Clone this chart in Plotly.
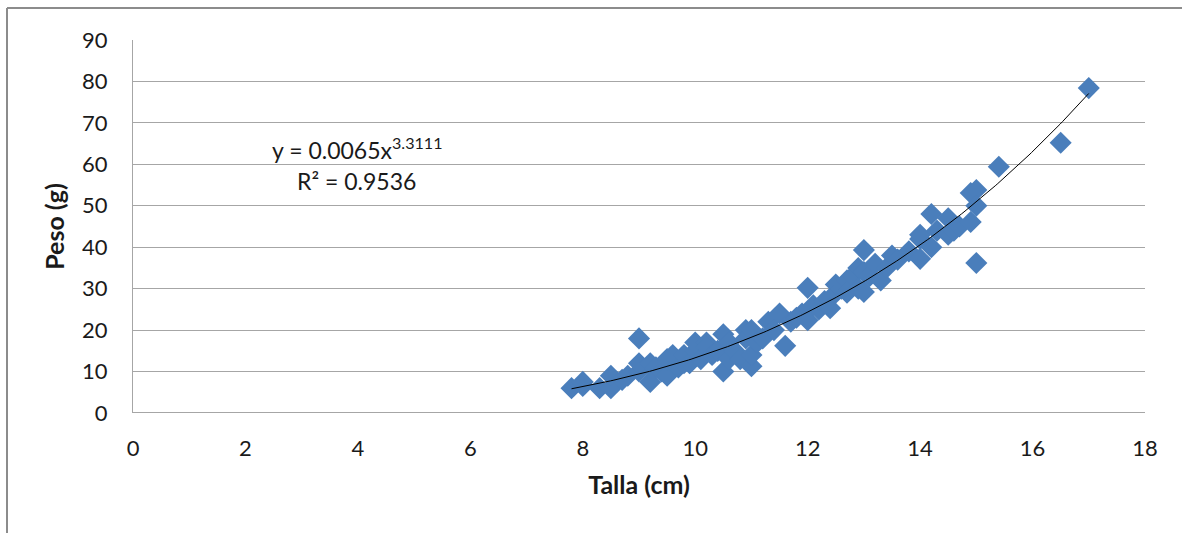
import numpy as np
import plotly.graph_objects as go

# Talla (cm) y Peso (g) de cada ejemplar
talla = [7.8, 8.0, 8.0, 8.3, 8.5, 8.5, 8.7, 8.8, 9.0, 9.0, 9.0, 9.2, 9.2, 9.3,
         9.4, 9.5, 9.5, 9.6, 9.7, 9.8, 9.8, 9.9, 10.0, 10.0, 10.1, 10.2, 10.2,
         10.3, 10.4, 10.5, 10.5, 10.6, 10.6, 10.7, 10.8, 10.9, 10.9, 11.0,
         11.0, 11.0, 11.1, 11.2, 11.3, 11.4, 11.5, 11.6, 11.7, 11.8, 11.9,
         12.0, 12.0, 12.1, 12.2, 12.3, 12.4, 12.5, 12.5, 12.6, 12.7, 12.7,
         12.8, 12.9, 12.9, 13.0, 13.0, 13.0, 13.1, 13.2, 13.3, 13.4, 13.5,
         13.6, 13.8, 14.0, 14.0, 14.0, 14.2, 14.2, 14.3, 14.5, 14.5, 14.6,
         14.7, 14.9, 14.9, 15.0, 15.0, 15.0, 15.4, 16.5, 17.0]
peso = [6.0, 6.5, 7.5, 6.0, 6.0, 9.0, 8.0, 9.0, 18.0, 10.0, 12.0, 7.5, 12.0, 11.0,
        10.0, 9.0, 13.0, 14.0, 11.0, 12.0, 14.0, 12.0, 15.0, 17.0, 13.0, 17.0, 16.0,
        14.0, 15.0, 10.0, 19.0, 17.0, 13.0, 15.0, 13.0, 20.0, 18.0, 11.3,
        14.0, 20.0, 17.0, 18.0, 22.0, 20.0, 24.0, 16.2, 22.0, 23.0, 24.0,
        30.2, 22.4, 26.0, 25.0, 27.0, 25.3, 29.0, 31.0, 30.0, 32.0, 29.0,
        33.0, 35.0, 30.0, 29.2, 39.3, 34.0, 33.0, 36.0, 32.0, 35.0, 38.0,
        37.0, 39.0, 37.2, 42.0, 43.0, 48.0, 40.0, 44.0, 47.0, 43.0, 44.0,
        45.0, 53.1, 46.1, 53.8, 50.0, 36.2, 59.4, 65.2, 78.4]

# Ajuste potencial: y = a * x^b
coef_a = 0.0065
coef_b = 3.3111
r2 = 0.9536

x_tick_vals = [0, 2, 4, 6, 8, 10, 12, 14, 16, 18]
y_tick_vals = [0, 10, 20, 30, 40, 50, 60, 70, 80, 90]

FONT = "Lato, 'Open Sans', sans-serif"
GRID = "#a6a6a6"
TEXT = "#1a1a1a"

xs = np.linspace(min(talla), max(talla), 200)
ys = coef_a * xs ** coef_b

fig = go.Figure()
fig.add_trace(go.Scatter(
    x=talla, y=peso, mode="markers",
    marker=dict(symbol="diamond", size=17, color="#4a7ebb", line=dict(width=0)),
    showlegend=False, hoverinfo="x+y"))
fig.add_trace(go.Scatter(
    x=xs, y=ys, mode="lines",
    line=dict(color="#000000", width=1),
    showlegend=False, hoverinfo="skip"))

fig.update_layout(
    width=1182, height=533,
    margin=dict(l=133, r=37, t=40, b=120),
    paper_bgcolor="white", plot_bgcolor="white",
    font=dict(family=FONT, color=TEXT, size=22),
    xaxis=dict(
        range=[0, 18], tickvals=x_tick_vals, showgrid=False, zeroline=False,
        showline=False, ticks="outside", ticklen=16,
        tickcolor="rgba(0,0,0,0)", tickfont=dict(size=22),
        title=dict(text="<b>Talla (cm)</b>", font=dict(size=25), standoff=16)),
    yaxis=dict(
        range=[0, 90], tickvals=y_tick_vals, showgrid=True, gridcolor=GRID,
        gridwidth=1, zeroline=False, showline=True, linecolor=GRID,
        linewidth=1, ticks="outside", ticklen=20,
        tickcolor="rgba(0,0,0,0)", tickfont=dict(size=22),
        title=dict(text="<b>Peso (g)</b>", font=dict(size=25), standoff=10)),
    shapes=[
        # línea base del eje X
        dict(type="line", xref="x", yref="y", x0=0, x1=18, y0=0, y1=0,
             line=dict(color=GRID, width=2)),
        # borde exterior del gráfico
        dict(type="line", xref="paper", yref="paper", x0=-0.1245, x1=1.2,
             y0=1.0858, y1=1.0858, line=dict(color="#8c8c8c", width=2)),
        dict(type="line", xref="paper", yref="paper", x0=-0.1245, x1=-0.1245,
             y0=1.0858, y1=-0.5, line=dict(color="#8c8c8c", width=2)),
    ],
    annotations=[
        dict(x=3.98, y=63.8, xref="x", yref="y", showarrow=False,
             text=f"y = {coef_a}x<sup>{coef_b}</sup>",
             font=dict(size=23, color=TEXT)),
        dict(x=3.98, y=56.0, xref="x", yref="y", showarrow=False,
             text=f"R² = {r2}", font=dict(size=23, color=TEXT)),
    ],
)

fig.write_html("out.html")
